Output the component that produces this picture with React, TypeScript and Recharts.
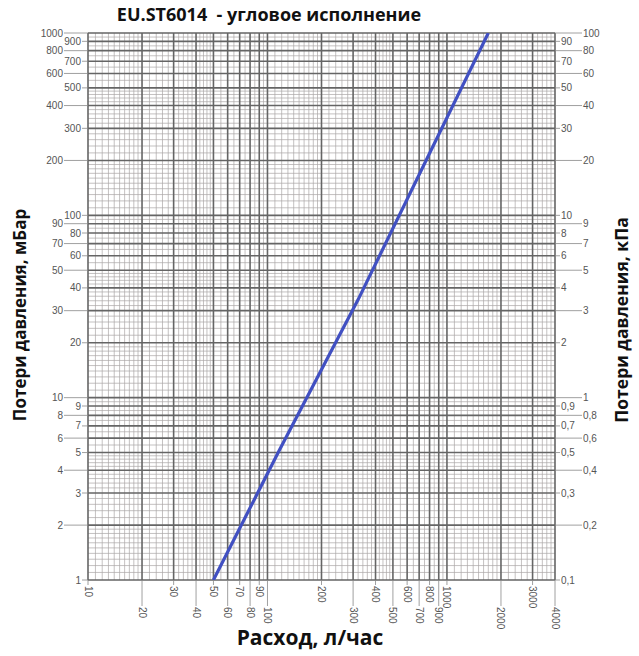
import React from "react";
import { LineChart, Line, XAxis, YAxis, ReferenceLine } from "recharts";

// ── Data ───────────────────────────────────────────────────────────────────
const flowTicks = [
  10, 20, 30, 40, 50, 60, 70, 80, 90,
  100, 200, 300, 400, 500, 600, 700, 800, 900,
  1000, 2000, 3000, 4000,
];
const mbarTicks = [
  1, 2, 3, 4, 5, 6, 7, 8, 9,
  10, 20, 30, 40, 50, 60, 70, 80, 90,
  100, 200, 300, 400, 500, 600, 700, 800, 900, 1000,
];
const kpaTicks = [
  0.1, 0.2, 0.3, 0.4, 0.5, 0.6, 0.7, 0.8, 0.9,
  1, 2, 3, 4, 5, 6, 7, 8, 9,
  10, 20, 30, 40, 50, 60, 70, 80, 90, 100,
];
const kpaLabels = [
  "0,1", "0,2", "0,3", "0,4", "0,5", "0,6", "0,7", "0,8", "0,9",
  "1", "2", "3", "4", "5", "6", "7", "8", "9",
  "10", "20", "30", "40", "50", "60", "70", "80", "90", "100",
];
// flow (l/h) vs pressure loss (mbar)
const curve = [
  { flow: 50, dp: 1 },
  { flow: 117, dp: 5.2 },
  { flow: 320, dp: 34.5 },
  { flow: 1700, dp: 1000 },
];

// fine graph-paper subdivisions within one decade
const minorMantissas = [
  1.1, 1.2, 1.3, 1.4, 1.5, 1.6, 1.7, 1.8, 1.9,
  2.2, 2.4, 2.6, 2.8, 3.2, 3.4, 3.6, 3.8, 4.2, 4.4, 4.6, 4.8,
  5.5, 6.5, 7.5, 8.5, 9.5,
];

// ── Style tokens ───────────────────────────────────────────────────────────
const MAJOR = "#656565";
const MINOR = "#aaa6a6";
const TICK_LINE = "#888";
const LABEL = "#555";
const BLUE = "#4150c2";
const tickFont = { fontSize: 10, fill: LABEL, fontFamily: "Liberation Sans, Arial, sans-serif" };

const minorX = [10, 100, 1000]
  .flatMap((d) => minorMantissas.map((m) => Math.round(m * d * 100) / 100))
  .filter((v) => v < 4000);
const minorY = [1, 10, 100].flatMap((d) => minorMantissas.map((m) => Math.round(m * d * 100) / 100));

// ── Custom ticks ───────────────────────────────────────────────────────────
const LeftTick = (props: any) => {
  const { x, y, payload } = props;
  const i = mbarTicks.indexOf(payload.value);
  const len = i % 2 === 1 ? 24 : 6;
  return (
    <g>
      <line x1={x} x2={x - len} y1={y} y2={y} stroke={TICK_LINE} strokeWidth={0.8} />
      <text x={x - len - 1} y={y} textAnchor="end" dominantBaseline="central" {...tickFont}>
        {payload.value}
      </text>
    </g>
  );
};

const RightTick = (props: any) => {
  const { x, y, payload } = props;
  const i = kpaTicks.indexOf(payload.value);
  const len = i % 2 === 1 ? 27 : 5;
  return (
    <g>
      <line x1={x} x2={x + len} y1={y} y2={y} stroke={TICK_LINE} strokeWidth={0.8} />
      <text x={x + len + 1} y={y} textAnchor="start" dominantBaseline="central" {...tickFont}>
        {kpaLabels[i]}
      </text>
    </g>
  );
};

const BottomTick = (props: any) => {
  const { x, y, payload } = props;
  const i = flowTicks.indexOf(payload.value);
  const len = i % 2 === 1 ? 26 : 5;
  const ty = y + len + 1;
  return (
    <g>
      <line x1={x} x2={x} y1={y} y2={y + len} stroke={TICK_LINE} strokeWidth={0.8} />
      <text
        x={x}
        y={ty}
        transform={`rotate(90, ${x}, ${ty})`}
        textAnchor="start"
        dominantBaseline="central"
        {...tickFont}
      >
        {payload.value}
      </text>
    </g>
  );
};

// ── Page ───────────────────────────────────────────────────────────────────
const labelStyle: React.CSSProperties = {
  position: "absolute",
  fontFamily: "Open Sans, sans-serif",
  fontWeight: 700,
  color: "#111",
  whiteSpace: "pre",
};

export default function App() {
  return (
    <div style={{ position: "absolute", left: 0, top: 0, width: 639, height: 656, background: "#fff" }}>
      <LineChart
        width={639}
        height={656}
        data={curve}
        margin={{ top: 33, right: 0, bottom: 0, left: 0 }}
      >
        <XAxis
          dataKey="flow"
          type="number"
          scale="log"
          domain={[10, 4000]}
          allowDataOverflow
          ticks={flowTicks}
          interval={0}
          height={76}
          tickSize={0}
          tickMargin={0}
          axisLine={false}
          tickLine={false}
          tick={<BottomTick />}
        />
        <YAxis
          type="number"
          scale="log"
          domain={[1, 1000]}
          allowDataOverflow
          ticks={mbarTicks}
          interval={0}
          width={88}
          tickSize={0}
          tickMargin={0}
          axisLine={false}
          tickLine={false}
          tick={<LeftTick />}
        />
        <YAxis
          yAxisId="kpa"
          orientation="right"
          type="number"
          scale="log"
          domain={[0.1, 100]}
          allowDataOverflow
          ticks={kpaTicks}
          interval={0}
          width={84}
          tickSize={0}
          tickMargin={0}
          axisLine={false}
          tickLine={false}
          tick={<RightTick />}
        />
        {minorX.map((v) => (
          <ReferenceLine key={`mx${v}`} x={v} stroke={MINOR} strokeWidth={0.7} />
        ))}
        {minorY.map((v) => (
          <ReferenceLine key={`my${v}`} y={v} stroke={MINOR} strokeWidth={0.7} />
        ))}
        {flowTicks.map((v) => (
          <ReferenceLine key={`x${v}`} x={v} stroke={MAJOR} strokeWidth={1.6} />
        ))}
        {mbarTicks.map((v) => (
          <ReferenceLine key={`y${v}`} y={v} stroke={MAJOR} strokeWidth={1.6} />
        ))}
        <Line
          dataKey="dp"
          type="linear"
          stroke={BLUE}
          strokeWidth={3.2}
          dot={false}
          isAnimationActive={false}
        />
      </LineChart>

      <div style={{ ...labelStyle, left: 0, width: 538, top: 2, textAlign: "center", fontSize: 18 }}>
        {"EU.ST6014  - угловое исполнение"}
      </div>
      <div
        style={{
          ...labelStyle,
          left: 19,
          top: 315,
          fontSize: 17,
          transform: "translate(-50%, -50%) rotate(-90deg)",
        }}
      >
        Потери давления, мБар
      </div>
      <div
        style={{
          ...labelStyle,
          left: 621,
          top: 320,
          fontSize: 17.5,
          transform: "translate(-50%, -50%) rotate(-90deg)",
        }}
      >
        Потери давления, кПа
      </div>
      <div
        style={{
          ...labelStyle,
          left: 310,
          top: 637,
          fontSize: 21,
          transform: "translate(-50%, -50%)",
        }}
      >
        Расход, л/час
      </div>
    </div>
  );
}
